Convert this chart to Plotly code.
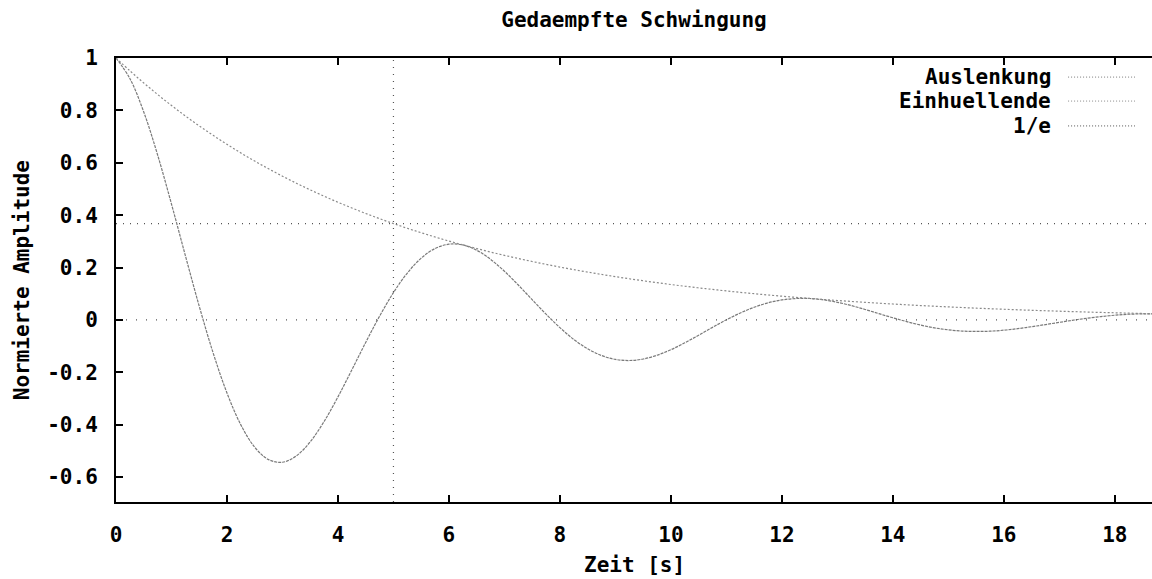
import plotly.graph_objects as go

# ---- data ----
zeit = [0, 0.25, 0.5, 0.75, 1, 1.25, 1.5, 1.75, 2, 2.25, 2.5, 2.75, 3, 3.25, 3.5, 3.75,
        4, 4.25, 4.5, 4.75, 5, 5.25, 5.5, 5.75, 6, 6.25, 6.5, 6.75, 7, 7.25, 7.5, 7.75,
        8, 8.25, 8.5, 8.75, 9, 9.25, 9.5, 9.75, 10, 10.25, 10.5, 10.75, 11, 11.25, 11.5, 11.75,
        12, 12.25, 12.5, 12.75, 13, 13.25, 13.5, 13.75, 14, 14.25, 14.5, 14.75, 15, 15.25, 15.5, 15.75,
        16, 16.25, 16.5, 16.75, 17, 17.25, 17.5, 17.75, 18, 18.25, 18.5, 18.75]

auslenkung = [1.0, 0.9216, 0.7940, 0.6298, 0.4423, 0.2456, 0.0524, -0.1256, -0.2789, -0.4005,
              -0.4859, -0.5332, -0.5433, -0.5189, -0.4651, -0.3877, -0.2937, -0.1907, -0.0857, 0.0144,
              0.1044, 0.1792, 0.2359, 0.2727, 0.2892, 0.2864, 0.2661, 0.2315, 0.1859, 0.1333,
              0.0773, 0.0221, -0.0294, -0.0743, -0.1100, -0.1358, -0.1506, -0.1549, -0.1492, -0.1347,
              -0.1135, -0.0874, -0.0582, -0.0283, 0.0005, 0.0265, 0.0485, 0.0654, 0.0765, 0.0818,
              0.0819, 0.0768, 0.0674, 0.0549, 0.0400, 0.0239, 0.0083, -0.0064, -0.0195, -0.0302,
              -0.0378, -0.0425, -0.0439, -0.0429, -0.0391, -0.0333, -0.0259, -0.0177, -0.0092, -0.0009,
              0.0065, 0.0128, 0.0180, 0.0217, 0.0232, 0.0234]

einhuellende = [1.0, 0.9512, 0.9048, 0.8607, 0.8187, 0.7788, 0.7408, 0.7047, 0.6703, 0.6376,
                0.6065, 0.5769, 0.5488, 0.5220, 0.4966, 0.4724, 0.4493, 0.4274, 0.4066, 0.3867,
                0.3679, 0.3499, 0.3329, 0.3166, 0.3012, 0.2865, 0.2725, 0.2592, 0.2466, 0.2346,
                0.2231, 0.2122, 0.2019, 0.1920, 0.1827, 0.1738, 0.1653, 0.1572, 0.1496, 0.1423,
                0.1353, 0.1287, 0.1225, 0.1165, 0.1108, 0.1054, 0.1003, 0.0954, 0.0907, 0.0863,
                0.0821, 0.0781, 0.0743, 0.0707, 0.0672, 0.0639, 0.0608, 0.0578, 0.0550, 0.0523,
                0.0498, 0.0474, 0.0450, 0.0429, 0.0408, 0.0388, 0.0369, 0.0351, 0.0334, 0.0317,
                0.0302, 0.0287, 0.0273, 0.0260, 0.0247, 0.0235]

level_1e = 0.3679        # 1/e
t_1e = 5                 # time constant
x_range = [0, 18.67]
y_range = [-0.695, 1.0]
x_ticks = [0, 2, 4, 6, 8, 10, 12, 14, 16, 18]
y_ticks = [-0.6, -0.4, -0.2, 0, 0.2, 0.4, 0.6, 0.8, 1]
y_ticklabels = ["-0.6", "-0.4", "-0.2", "0", "0.2", "0.4", "0.6", "0.8", "1"]
legend_names = ["Auslenkung", "Einhuellende", "1/e"]

FONT = "DejaVu Sans Mono"
FS = 21

styles = [dict(color="#7a7a7a", width=1.2, dash="3px,1px"),
          dict(color="#8a8a8a", width=1.2, dash="2px,2px"),
          dict(color="#555555", width=1.2, dash="1px,6px")]

fig = go.Figure()
fig.add_trace(go.Scatter(x=zeit, y=auslenkung, mode="lines", line=dict(shape="spline", **styles[0]),
                         name=legend_names[0], showlegend=False))
fig.add_trace(go.Scatter(x=zeit, y=einhuellende, mode="lines", line=dict(shape="spline", **styles[1]),
                         name=legend_names[1], showlegend=False))
fig.add_trace(go.Scatter(x=x_range, y=[level_1e, level_1e], mode="lines", line=styles[2],
                         name=legend_names[2], showlegend=False))
fig.add_trace(go.Scatter(x=[t_1e, t_1e], y=y_range, mode="lines", line=styles[2],
                         showlegend=False))
# zero axis
fig.add_trace(go.Scatter(x=x_range, y=[0, 0], mode="lines",
                         line=dict(color="#555555", width=1.2, dash="1px,9px"), showlegend=False))

# manual legend (text right-aligned, sample to the right), like gnuplot
leg_y = [0.957, 0.903, 0.847]
for name, yy, st in zip(legend_names, leg_y, styles):
    fig.add_annotation(x=0.9045, y=yy, xref="paper", yref="paper", text=name, showarrow=False,
                       xanchor="right", yanchor="middle",
                       font=dict(family=FONT, size=FS, color="black", weight="bold"))
    fig.add_shape(type="line", xref="paper", yref="paper", x0=0.919, x1=0.9836, y0=yy, y1=yy,
                  line=dict(color=st["color"], width=1, dash="1px,2px"))

# axis titles
fig.add_annotation(x=0.5, y=-0.142, xref="paper", yref="paper", text="Zeit [s]", showarrow=False,
                   xanchor="center", yanchor="middle",
                   font=dict(family=FONT, size=FS, color="black", weight="bold"))
fig.add_annotation(x=-0.0905, y=0.5, xref="paper", yref="paper", text="Normierte Amplitude",
                   showarrow=False, textangle=-90, xanchor="center", yanchor="middle",
                   font=dict(family=FONT, size=FS, color="black", weight="bold"))

fig.update_layout(
    width=1152, height=579,
    margin=dict(l=116, r=0, t=58, b=77),
    paper_bgcolor="white", plot_bgcolor="white",
    title=dict(text="Gedaempfte Schwingung", x=0.5, xref="paper", xanchor="center",
               y=1 - 20 / 579, yref="container", yanchor="middle",
               font=dict(family=FONT, size=FS, color="black", weight="bold")),
    xaxis=dict(range=x_range, tickvals=x_ticks, ticks="inside", ticklen=7, tickwidth=1.5,
               tickcolor="black", showline=True, linecolor="black", linewidth=2, mirror="ticks",
               showgrid=False, zeroline=False, ticklabelstandoff=13,
               tickfont=dict(family=FONT, size=FS, color="black", weight="bold")),
    yaxis=dict(range=y_range, tickvals=y_ticks, ticktext=y_ticklabels, ticks="inside", ticklen=7,
               tickwidth=1.5, tickcolor="black", showline=True, linecolor="black", linewidth=2,
               mirror=False, showgrid=False, zeroline=False, ticklabelstandoff=12,
               tickfont=dict(family=FONT, size=FS, color="black", weight="bold")),
)

fig.write_html("out.html")
